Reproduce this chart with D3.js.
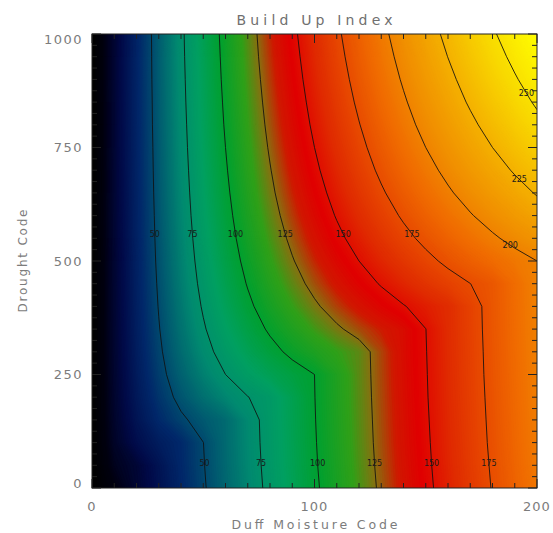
<!DOCTYPE html>
<html>
  <head>
    <title>Build Up Index</title>
    <script src="https://unpkg.com/d3@7/dist/d3.min.js"></script>
    <style>
      body { margin: 0; background: #fff; }
      text { font-family: 'DejaVu Sans', sans-serif; }
    </style>
  </head>
  <body>
    <svg width="553" height="533"></svg>
    <script>
      // grid of Build Up Index values, columns = Duff Moisture Code, rows = Drought Code (top row first)
      const dmcValues = [0, 10, 20, 30, 40, 50, 60, 70, 80, 90, 100, 110, 120, 130, 140, 150, 160, 170, 180, 190, 200];
      const dcValues = [1000, 950, 900, 850, 800, 750, 700, 650, 600, 550, 500, 450, 400, 350, 300, 250, 200, 150, 100, 50, 0];
      const buiGrid = [
        [0, 19.5, 38.1, 55.8, 72.7, 88.9, 104.3, 119.1, 133.3, 146.9, 160.0, 172.5, 184.6, 196.2, 207.4, 218.2, 228.6, 238.6, 248.3, 257.6, 266.7],
        [0, 19.5, 38.0, 55.6, 72.4, 88.4, 103.6, 118.2, 132.2, 145.5, 158.3, 170.6, 182.4, 193.7, 204.6, 215.1, 225.2, 234.9, 244.3, 253.3, 262.1],
        [0, 19.5, 37.9, 55.4, 72.0, 87.8, 102.9, 117.2, 130.9, 144.0, 156.5, 168.5, 180.0, 191.0, 201.6, 211.8, 221.5, 230.9, 240.0, 248.7, 257.1],
        [0, 19.4, 37.8, 55.1, 71.6, 87.2, 102.0, 116.1, 129.5, 142.3, 154.5, 166.2, 177.4, 188.1, 198.3, 208.2, 217.6, 226.7, 235.4, 243.8, 251.9],
        [0, 19.4, 37.6, 54.9, 71.1, 86.5, 101.1, 114.9, 128.0, 140.5, 152.4, 163.7, 174.5, 184.9, 194.8, 204.3, 213.3, 222.0, 230.4, 238.4, 246.2],
        [0, 19.4, 37.5, 54.5, 70.6, 85.7, 100.0, 113.5, 126.3, 138.5, 150.0, 161.0, 171.4, 181.4, 190.9, 200.0, 208.7, 217.0, 225.0, 232.7, 240.0],
        [0, 19.3, 37.3, 54.2, 70.0, 84.8, 98.8, 112.0, 124.4, 136.2, 147.4, 157.9, 168.0, 177.6, 186.7, 195.3, 203.6, 211.6, 219.1, 226.4, 233.3],
        [0, 19.3, 37.1, 53.8, 69.3, 83.9, 97.5, 110.3, 122.4, 133.7, 144.4, 154.6, 164.2, 173.3, 182.0, 190.2, 198.1, 205.6, 212.7, 219.6, 226.1],
        [0, 19.2, 36.9, 53.3, 68.6, 82.8, 96.0, 108.4, 120.0, 130.9, 141.2, 150.9, 160.0, 168.6, 176.8, 184.6, 192.0, 199.0, 205.7, 212.1, 218.2],
        [0, 19.1, 36.7, 52.8, 67.7, 81.5, 94.3, 106.2, 117.3, 127.7, 137.5, 146.7, 155.3, 163.4, 171.1, 178.4, 185.3, 191.8, 198.0, 203.9, 209.5],
        [0, 19.0, 36.4, 52.2, 66.7, 80.0, 92.3, 103.7, 114.3, 124.1, 133.3, 141.9, 150.0, 157.6, 164.7, 171.4, 177.8, 183.8, 189.5, 194.9, 200.0],
        [0, 18.9, 36.0, 51.4, 65.5, 78.3, 90.0, 100.8, 110.8, 120.0, 128.6, 136.6, 144.0, 151.0, 157.5, 163.6, 169.4, 174.9, 180.0, 189.9, 199.7],
        [0, 18.8, 35.6, 50.5, 64.0, 76.2, 87.3, 97.4, 106.7, 115.2, 123.1, 130.4, 137.1, 143.4, 149.3, 154.8, 160.0, 169.9, 179.7, 189.6, 199.4],
        [0, 18.7, 35.0, 49.4, 62.2, 73.7, 84.0, 93.3, 101.8, 109.6, 116.7, 123.2, 129.2, 134.8, 140.0, 149.9, 159.8, 169.6, 179.5, 189.3, 199.1],
        [0, 18.5, 34.3, 48.0, 60.0, 70.6, 80.0, 88.4, 96.0, 102.9, 109.1, 114.8, 120.0, 129.9, 139.8, 149.6, 159.5, 169.3, 179.1, 189.0, 198.8],
        [0, 18.2, 33.3, 46.2, 57.1, 66.7, 75.0, 82.4, 88.9, 94.7, 100.0, 109.9, 119.8, 129.6, 139.5, 149.3, 159.1, 169.0, 178.8, 188.6, 198.3],
        [0, 17.8, 32.0, 43.6, 53.3, 61.5, 68.6, 74.7, 80.0, 89.9, 99.8, 109.6, 119.5, 129.3, 139.1, 149.0, 158.8, 168.6, 178.3, 188.1, 197.9],
        [0, 17.1, 30.0, 40.0, 48.0, 54.5, 60.0, 69.9, 79.7, 89.6, 99.5, 109.3, 119.1, 128.9, 138.7, 148.5, 158.3, 168.1, 177.8, 187.6, 197.3],
        [0, 16.0, 26.7, 34.3, 40.0, 49.9, 59.7, 69.6, 79.4, 89.2, 99.1, 108.9, 118.7, 128.5, 138.3, 148.0, 157.8, 167.5, 177.3, 187.0, 196.7],
        [0, 13.3, 20.0, 29.8, 39.6, 49.4, 59.3, 69.1, 78.9, 88.7, 98.6, 108.3, 118.1, 127.9, 137.6, 147.4, 157.1, 166.8, 176.5, 186.2, 195.9],
        [0, 9.1, 19.0, 28.9, 38.8, 48.7, 58.6, 68.4, 78.2, 88.0, 97.8, 107.6, 117.4, 127.1, 136.9, 146.6, 156.3, 166.0, 175.7, 185.4, 195.0]
      ];

      // contour levels and where their labels sit (Drought Code of the label)
      const contourLevels = [50, 75, 100, 125, 150, 175, 200, 225, 250];
      const labelDcUpper = [560, 560, 560, 560, 560, 560, 535, 680, 870];
      const labelDcLower = [55, 55, 55, 55, 55, 55, null, null, null];

      const xTicks = [0, 100, 200];
      const yTicks = [0, 250, 500, 750, 1000];

      // colour table (black - blue - green - red - yellow)
      const colorStopsBui = [0, 10, 25, 40, 55, 70, 85, 100, 115, 125, 135, 145, 160, 175, 190, 205, 225, 245, 267];
      const colorStopsHex = ['#000000', '#000010', '#000a48', '#00286a', '#005a70', '#008a70', '#00a060', '#00a030',
                             '#30a018', '#887010', '#d01800', '#e00000', '#e02c00', '#e84c00', '#f06c00', '#f08c00',
                             '#f4b000', '#f8d800', '#ffff00'];

      const svg = d3.select('svg');
      const margin = {top: 34, left: 92, right: 16, bottom: 45};
      const width = +svg.attr('width');
      const height = +svg.attr('height');

      const x = d3.scaleLinear().domain([0, 200]).range([margin.left, width - margin.right]);
      const y = d3.scaleLinear().domain([0, 1000]).range([height - margin.bottom, margin.top]);
      const color = d3.scaleLinear().domain(colorStopsBui).range(colorStopsHex).clamp(true);

      const nx = dmcValues.length, ny = dcValues.length;
      const values = buiGrid.flat();

      // contour grid coords -> pixels (grid value i sits at i + 0.5)
      const cx = d3.scaleLinear().domain([0.5, nx - 0.5]).range([x(dmcValues[0]), x(dmcValues[nx - 1])]);
      const cy = d3.scaleLinear().domain([0.5, ny - 0.5]).range([y(dcValues[0]), y(dcValues[ny - 1])]);
      const path = d3.geoPath(d3.geoTransform({
        point(px, py) { this.stream.point(cx(px), cy(py)); }
      }));

      svg.append('defs').append('clipPath').attr('id', 'plotclip')
        .append('rect')
        .attr('x', x(0)).attr('y', y(1000))
        .attr('width', x(200) - x(0)).attr('height', y(0) - y(1000));

      const plot = svg.append('g').attr('clip-path', 'url(#plotclip)');

      // smooth colour field from many thin bands
      const bandThresholds = d3.range(0, 268, 1);
      const bands = d3.contours().size([nx, ny]).thresholds(bandThresholds)(values);
      plot.append('g').selectAll('path')
        .data(bands)
        .join('path')
        .attr('d', path)
        .attr('fill', d => color(d.value + 0.5))
        .attr('stroke', d => color(d.value + 0.5))
        .attr('stroke-width', 0.3);

      // contour lines
      const lines = d3.contours().size([nx, ny]).thresholds(contourLevels)(values);
      plot.append('g').selectAll('path')
        .data(lines)
        .join('path')
        .attr('d', path)
        .attr('fill', 'none')
        .attr('stroke', '#111')
        .attr('stroke-opacity', 0.85)
        .attr('stroke-width', 1);

      // point where a contour crosses a given pixel row
      const crossAt = (geom, ty) => {
        let best = null;
        geom.coordinates.forEach(poly => poly.forEach(ring => {
          for (let i = 0; i < ring.length - 1; i++) {
            const a = ring[i], b = ring[i + 1];
            const ay = cy(a[1]), by = cy(b[1]);
            if (ay === by || (ay - ty) * (by - ty) > 0) continue;
            const t = (ty - ay) / (by - ay);
            const px = cx(a[0]) + t * (cx(b[0]) - cx(a[0]));
            if (px > x(0) + 3 && px < x(200) - 3 && !best) best = [px, ty];
          }
        }));
        return best;
      };

      const labelG = plot.append('g');
      lines.forEach((geom, i) => {
        [labelDcUpper[i], labelDcLower[i]].forEach(dc => {
          if (dc == null) return;
          const p = crossAt(geom, y(dc));
          if (!p) return;
          labelG.append('text')
            .attr('x', p[0]).attr('y', p[1])
            .attr('dy', '0.35em')
            .attr('text-anchor', 'middle')
            .style('font-size', '8px')
            .style('fill', '#1a1a1a')
            .text(geom.value);
        });
      });

      // frame
      svg.append('rect')
        .attr('x', x(0)).attr('y', y(1000))
        .attr('width', x(200) - x(0)).attr('height', y(0) - y(1000))
        .attr('fill', 'none').attr('stroke', '#222').attr('stroke-width', 1);

      // ticks (pointing inwards)
      const tickG = svg.append('g').attr('stroke', '#222').attr('stroke-width', 1);
      const minorX = d3.range(0, 201, 10);
      const minorY = d3.range(0, 1001, 25);
      minorX.forEach(v => {
        const len = v % 100 === 0 ? 9 : 5;
        tickG.append('line').attr('x1', x(v)).attr('x2', x(v)).attr('y1', y(0)).attr('y2', y(0) - len);
        tickG.append('line').attr('x1', x(v)).attr('x2', x(v)).attr('y1', y(1000)).attr('y2', y(1000) + len);
      });
      minorY.forEach(v => {
        const len = v % 250 === 0 ? 9 : 5;
        tickG.append('line').attr('y1', y(v)).attr('y2', y(v)).attr('x1', x(0)).attr('x2', x(0) + len);
        tickG.append('line').attr('y1', y(v)).attr('y2', y(v)).attr('x1', x(200)).attr('x2', x(200) - len);
      });

      const labelColor = '#7c7c7c';

      // tick labels
      svg.append('g').selectAll('text')
        .data(xTicks)
        .join('text')
        .attr('x', d => x(d))
        .attr('y', y(0) + 23)
        .attr('text-anchor', 'middle')
        .style('font-size', '13px')
        .style('letter-spacing', '1px')
        .style('fill', labelColor)
        .text(d => d);

      svg.append('g').selectAll('text')
        .data(yTicks)
        .join('text')
        .attr('x', x(0) - 9)
        .attr('y', d => y(d) + (d === 0 ? -5 : d === 1000 ? 5 : 0))
        .attr('dy', '0.35em')
        .attr('text-anchor', 'end')
        .style('font-size', '13px')
        .style('letter-spacing', '1.5px')
        .style('fill', labelColor)
        .text(d => d);

      // titles
      svg.append('text')
        .attr('x', (x(0) + x(200)) / 2).attr('y', 25)
        .attr('text-anchor', 'middle')
        .attr('textLength', 156).attr('lengthAdjust', 'spacing')
        .style('font-size', '14px')
        .style('fill', '#707070')
        .text('Build Up Index');

      svg.append('text')
        .attr('x', (x(0) + x(200)) / 2).attr('y', 529)
        .attr('text-anchor', 'middle')
        .attr('textLength', 166).attr('lengthAdjust', 'spacing')
        .style('font-size', '12.5px')
        .style('fill', labelColor)
        .text('Duff Moisture Code');

      svg.append('text')
        .attr('transform', `translate(27,${y(500)}) rotate(-90)`)
        .attr('text-anchor', 'middle')
        .attr('textLength', 103).attr('lengthAdjust', 'spacing')
        .style('font-size', '12px')
        .style('fill', labelColor)
        .text('Drought Code');
    </script>
  </body>
</html>
